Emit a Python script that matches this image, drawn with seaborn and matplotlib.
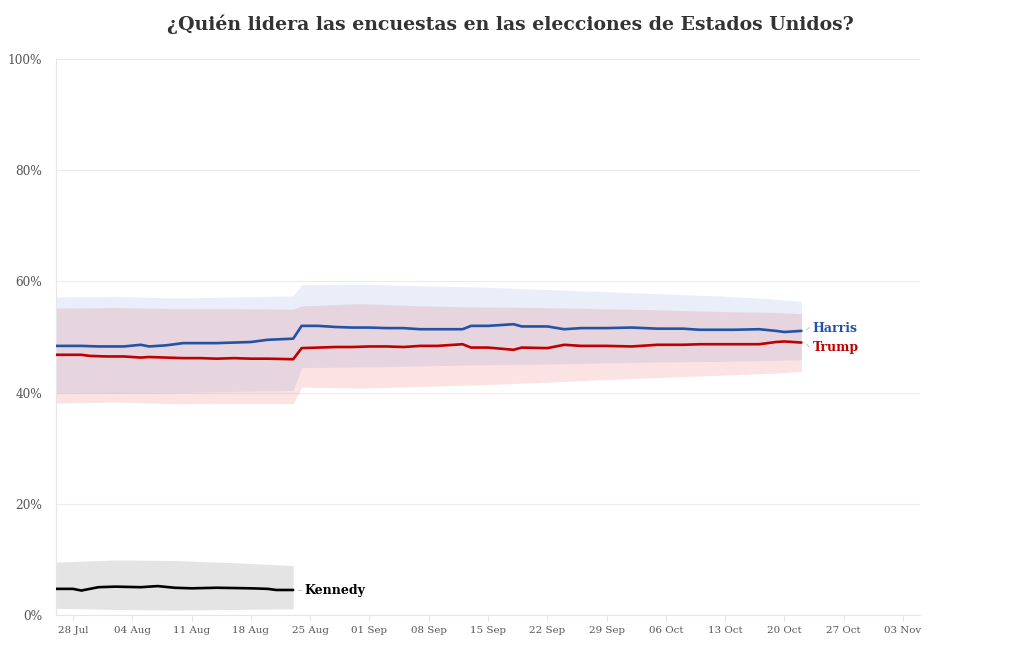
import matplotlib
matplotlib.use("Agg")
import matplotlib.pyplot as plt
import matplotlib.dates as mdates
import seaborn as sns
import pandas as pd
import numpy as np

# ---------------- data ----------------
harris_dates = ["2024-07-26", "2024-07-29", "2024-07-31", "2024-08-03", "2024-08-05", "2024-08-06",
                "2024-08-08", "2024-08-10", "2024-08-12", "2024-08-14", "2024-08-16", "2024-08-18",
                "2024-08-20", "2024-08-23", "2024-08-24", "2024-08-26", "2024-08-28", "2024-08-30",
                "2024-09-01", "2024-09-03", "2024-09-05", "2024-09-07", "2024-09-09", "2024-09-11",
                "2024-09-12", "2024-09-13", "2024-09-15", "2024-09-18", "2024-09-19", "2024-09-22",
                "2024-09-24", "2024-09-26", "2024-09-29", "2024-10-02", "2024-10-05", "2024-10-08",
                "2024-10-10", "2024-10-14", "2024-10-17", "2024-10-19", "2024-10-20", "2024-10-22"]
harris = [48.4, 48.4, 48.3, 48.3, 48.6, 48.3, 48.5, 48.9, 48.9, 48.9, 49.0, 49.1,
          49.5, 49.7, 52.0, 52.0, 51.8, 51.7, 51.7, 51.6, 51.6, 51.4, 51.4, 51.4,
          51.4, 52.0, 52.0, 52.3, 51.9, 51.9, 51.4, 51.6, 51.6, 51.7, 51.5, 51.5,
          51.3, 51.3, 51.4, 51.1, 50.9, 51.1]

trump_dates = ["2024-07-26", "2024-07-29", "2024-07-30", "2024-08-01", "2024-08-03", "2024-08-05",
               "2024-08-06", "2024-08-08", "2024-08-10", "2024-08-12", "2024-08-14", "2024-08-16",
               "2024-08-18", "2024-08-20", "2024-08-23", "2024-08-24", "2024-08-26", "2024-08-28",
               "2024-08-30", "2024-09-01", "2024-09-03", "2024-09-05", "2024-09-07", "2024-09-09",
               "2024-09-11", "2024-09-12", "2024-09-13", "2024-09-15", "2024-09-18", "2024-09-19",
               "2024-09-22", "2024-09-24", "2024-09-26", "2024-09-29", "2024-10-02", "2024-10-05",
               "2024-10-08", "2024-10-10", "2024-10-14", "2024-10-17", "2024-10-19", "2024-10-20",
               "2024-10-22"]
trump = [46.8, 46.8, 46.6, 46.5, 46.5, 46.3, 46.4, 46.3, 46.2, 46.2, 46.1, 46.2,
         46.1, 46.1, 46.0, 48.0, 48.1, 48.2, 48.2, 48.3, 48.3, 48.2, 48.4, 48.4,
         48.6, 48.7, 48.1, 48.1, 47.7, 48.1, 48.0, 48.6, 48.4, 48.4, 48.3, 48.6,
         48.6, 48.7, 48.7, 48.7, 49.1, 49.2, 49.0]

kennedy_dates = ["2024-07-26", "2024-07-28", "2024-07-29", "2024-07-31", "2024-08-02", "2024-08-05",
                 "2024-08-07", "2024-08-09", "2024-08-11", "2024-08-14", "2024-08-18", "2024-08-20",
                 "2024-08-21", "2024-08-23"]
kennedy = [4.7, 4.7, 4.4, 5.0, 5.1, 5.0, 5.2, 4.9, 4.8, 4.9, 4.8, 4.7, 4.5, 4.5]

band_dates = ["2024-07-26", "2024-08-02", "2024-08-09", "2024-08-16", "2024-08-23", "2024-08-24",
              "2024-08-31", "2024-09-07", "2024-09-14", "2024-09-21", "2024-09-28", "2024-10-05",
              "2024-10-12", "2024-10-19", "2024-10-22"]
harris_hi = [57.2, 57.3, 57.0, 57.2, 57.4, 59.4, 59.5, 59.2, 59.0, 58.6, 58.2, 57.8, 57.4, 56.8, 56.4]
harris_lo = [40.0, 39.9, 40.0, 40.2, 40.4, 44.5, 44.6, 44.8, 45.0, 45.1, 45.3, 45.5, 45.6, 45.8, 45.9]
trump_hi = [55.2, 55.3, 55.1, 55.1, 55.0, 55.6, 56.0, 55.6, 55.4, 55.3, 55.1, 54.9, 54.6, 54.4, 54.2]
trump_lo = [38.1, 38.3, 38.0, 38.1, 38.0, 41.0, 40.8, 41.1, 41.4, 41.8, 42.3, 42.7, 43.1, 43.5, 43.8]

kennedy_band_dates = ["2024-07-26", "2024-08-02", "2024-08-09", "2024-08-16", "2024-08-23"]
kennedy_hi = [9.5, 9.9, 9.8, 9.4, 8.9]
kennedy_lo = [1.2, 1.0, 0.9, 1.0, 1.1]

y_ticks = [0, 20, 40, 60, 80, 100]
x_tick_dates = ["2024-07-28", "2024-08-04", "2024-08-11", "2024-08-18", "2024-08-25", "2024-09-01",
                "2024-09-08", "2024-09-15", "2024-09-22", "2024-09-29", "2024-10-06", "2024-10-13",
                "2024-10-20", "2024-10-27", "2024-11-03"]
title = "¿Quién lidera las encuestas en las elecciones de Estados Unidos?"

# ---------------- styling ----------------
C_H = "#2253a5"
C_T = "#bf0000"
C_K = "#000000"

sns.set_theme(style="white")
plt.rcParams["font.family"] = ["DejaVu Serif"]

df = pd.concat([
    pd.DataFrame({"fecha": pd.to_datetime(harris_dates), "valor": harris, "candidato": "Harris"}),
    pd.DataFrame({"fecha": pd.to_datetime(trump_dates), "valor": trump, "candidato": "Trump"}),
    pd.DataFrame({"fecha": pd.to_datetime(kennedy_dates), "valor": kennedy, "candidato": "Kennedy"}),
])

fig = plt.figure(figsize=(10.2, 6.5), dpi=100)
ax = fig.add_axes([56 / 1020, 35 / 650, 864 / 1020, 556 / 650])

bd = pd.to_datetime(band_dates)
ax.fill_between(bd, trump_lo, trump_hi, color="#e8282e", alpha=0.13, lw=0, zorder=1)
ax.fill_between(bd, harris_lo, harris_hi, color="#3a6cc0", alpha=0.11, lw=0, zorder=1)
ax.fill_between(pd.to_datetime(kennedy_band_dates), kennedy_lo, kennedy_hi,
                color="#e4e4e4", lw=0, zorder=1)

sns.lineplot(data=df, x="fecha", y="valor", hue="candidato",
             palette={"Harris": C_H, "Trump": C_T, "Kennedy": C_K},
             linewidth=1.9, legend=False, ax=ax, zorder=3)

x0 = pd.Timestamp("2024-07-26")
x1 = pd.Timestamp("2024-11-05")
ax.set_xlim(x0, x1)
ax.set_ylim(0, 100)

ax.set_yticks(y_ticks)
ax.set_yticklabels([f"{v}%" for v in y_ticks], fontsize=8.7, color="#555555")
ax.set_xticks(pd.to_datetime(x_tick_dates))
ax.xaxis.set_major_formatter(mdates.DateFormatter("%d %b"))
ax.tick_params(axis="x", labelsize=7.4, labelcolor="#555555", length=4, width=0.8,
               color="#e6e6e6", pad=4, bottom=True)
ax.tick_params(axis="y", length=0, pad=10)
for lab in ax.get_yticklabels():
    lab.set_horizontalalignment("right")

ax.set_xlabel("")
ax.set_ylabel("")
ax.grid(axis="y", color="#ececec", linewidth=0.8)
ax.grid(axis="x", visible=False)
for s in ["top", "right"]:
    ax.spines[s].set_visible(False)
ax.spines["left"].set_color("#e6e6e6")
ax.spines["bottom"].set_color("#e6e6e6")
ax.spines["left"].set_linewidth(0.8)
ax.spines["bottom"].set_linewidth(0.8)

# end labels
end_h = pd.to_datetime(harris_dates[-1])
end_k = pd.to_datetime(kennedy_dates[-1])
lab_h = end_h + pd.Timedelta(days=1.3)
lab_k = end_k + pd.Timedelta(days=1.3)
ax.text(lab_h, harris[-1] + 0.5, "Harris", color=C_H, fontsize=9, fontweight="bold",
        va="center", ha="left")
ax.text(lab_h, trump[-1] - 0.9, "Trump", color=C_T, fontsize=9, fontweight="bold",
        va="center", ha="left")
ax.text(lab_k, kennedy[-1] - 0.1, "Kennedy", color=C_K, fontsize=9, fontweight="bold",
        va="center", ha="left")
tk = pd.Timedelta(days=0.35)
ax.plot([lab_h - tk * 2, lab_h - tk], [harris[-1] + 0.2, harris[-1] + 0.6], color="#bbbbbb", lw=0.6)
ax.plot([lab_h - tk * 2, lab_h - tk], [trump[-1] - 0.3, trump[-1] - 0.8], color="#bbbbbb", lw=0.6)
ax.plot([lab_k - tk * 2, lab_k - tk], [kennedy[-1], kennedy[-1]], color="#bbbbbb", lw=0.6)

fig.text(510 / 1020, 1 - 24 / 650, title, ha="center", va="center",
         fontsize=13.6, fontweight="bold", color="#333333")

fig.savefig("out.png", dpi=100, facecolor="white")
